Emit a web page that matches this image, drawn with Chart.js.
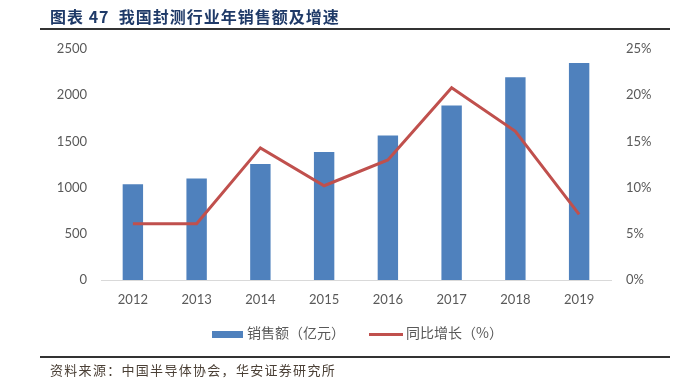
<!DOCTYPE html>
<html><head><meta charset="utf-8">
<script src="https://cdn.jsdelivr.net/npm/chart.js@4/dist/chart.umd.min.js"></script>
<style>
html,body{margin:0;padding:0;background:#fff;}
#wrap{position:relative;width:692px;height:383px;overflow:hidden;}
#c{position:absolute;left:0;top:0;}
.title{position:absolute;left:50px;top:4px;font-family:"Noto Sans CJK SC";font-weight:bold;font-size:16px;color:#1F3A68;white-space:nowrap;letter-spacing:1px;}
.rule{position:absolute;left:40px;width:630px;background:#333;}
.src{position:absolute;left:50px;top:360px;font-family:"Noto Sans CJK SC";font-size:13px;color:#4a3f35;white-space:nowrap;letter-spacing:1.3px;}
.leg{position:absolute;top:322px;font-family:"Noto Sans CJK SC";font-size:14px;color:#595959;white-space:nowrap;}
</style></head><body>
<div id="wrap">
<canvas id="c" width="692" height="383"></canvas>
<div class="title">图表 47&nbsp; 我国封测行业年销售额及增速</div>
<div class="rule" style="top:28px;height:2px;"></div>
<div class="rule" style="top:356px;height:2px;"></div>
<div class="leg" style="left:212px;"><span style="display:inline-block;width:31px;height:7px;background:#4F81BD;vertical-align:middle;margin-right:4px;"></span>销售额（亿元）</div>
<div class="leg" style="left:369px;"><span style="display:inline-block;width:34px;height:3px;background:#C0504D;vertical-align:middle;margin-right:3px;"></span>同比增长（%）</div>
<div class="src">资料来源：中国半导体协会，华安证券研究所</div>
</div>
<script>
const categories = ["2012","2013","2014","2015","2016","2017","2018","2019"];
const salesValues = [1035.7, 1098.9, 1255.9, 1384.0, 1564.3, 1889.7, 2193.9, 2349.7];
const growthValues = [6.1, 6.1, 14.3, 10.2, 13.0, 20.8, 16.1, 7.1];
const leftTicks = [0, 500, 1000, 1500, 2000, 2500];
const rightTicks = [0, 5, 10, 15, 20, 25];

const font = {family: "Lato", size: 13};
new Chart(document.getElementById('c'), {
  data: {
    labels: categories,
    datasets: [
      {type:'line', label:'同比增长（%）', data: growthValues, yAxisID:'y1',
       borderColor:'#C0504D', borderWidth:3, pointRadius:0, tension:0, order:0, borderJoinStyle:'miter'},
      {type:'bar', label:'销售额（亿元）', data: salesValues, yAxisID:'y',
       backgroundColor:'#4F81BD', categoryPercentage:1, barPercentage:0.32, order:1}
    ]
  },
  options: {
    responsive:false, animation:false, devicePixelRatio:1,
    layout:{padding:{top:49,bottom:0,left:0,right:0}},
    plugins:{legend:{display:false}, tooltip:{enabled:false}},
    scales:{
      x:{grid:{display:false, drawTicks:false}, border:{color:'#d9d9d9', width:1},
         ticks:{font:font, color:'#595959', padding:12},
         afterFit(s){s.height=103;}},
      y:{position:'left', min:0, max:2500, grid:{display:false, drawTicks:false}, border:{display:false},
         afterBuildTicks(s){s.ticks = leftTicks.map(v=>({value:v}));},
         ticks:{font:font, color:'#595959', padding:14, callback:v=>String(v)},
         afterFit(s){s.width=101;}},
      y1:{position:'right', min:0, max:25, grid:{display:false, drawTicks:false}, border:{display:false},
         afterBuildTicks(s){s.ticks = rightTicks.map(v=>({value:v}));},
         ticks:{font:font, color:'#595959', padding:15, callback:v=>v+'%'},
         afterFit(s){s.width=81;}}
    }
  }
});
</script>
</body></html>
